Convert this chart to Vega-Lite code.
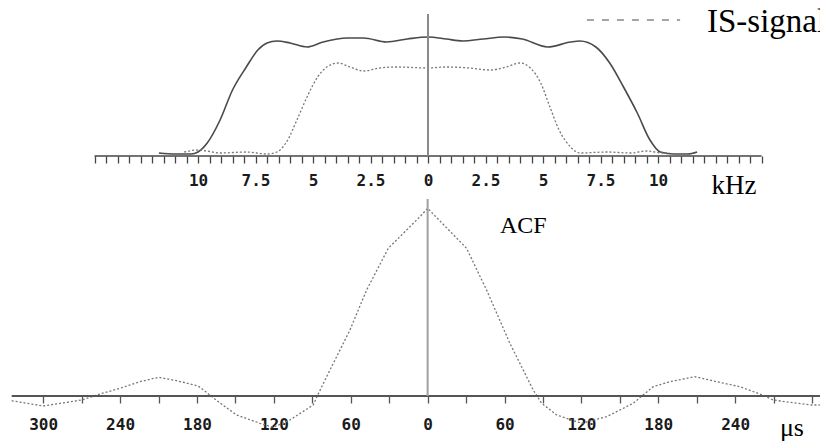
{
  "$schema": "https://vega.github.io/schema/vega-lite/v6.json",
  "width": 820,
  "height": 441,
  "autosize": {"type": "none"},
  "padding": 0,
  "background": "white",
  "config": {"view": {"stroke": null}},
  "datasets": {
    "spectrum": [
      {"k": -11.7, "v": 3, "series": "filter"},
      {"k": -11.0, "v": 2, "series": "filter"},
      {"k": -10.3, "v": 2, "series": "filter"},
      {"k": -10.0, "v": 4, "series": "filter"},
      {"k": -9.6, "v": 13, "series": "filter"},
      {"k": -9.04, "v": 36, "series": "filter"},
      {"k": -8.5, "v": 66, "series": "filter"},
      {"k": -7.9, "v": 89, "series": "filter"},
      {"k": -7.4, "v": 106, "series": "filter"},
      {"k": -7.0, "v": 113, "series": "filter"},
      {"k": -6.57, "v": 115, "series": "filter"},
      {"k": -6.0, "v": 113, "series": "filter"},
      {"k": -5.26, "v": 109, "series": "filter"},
      {"k": -4.56, "v": 114, "series": "filter"},
      {"k": -3.5, "v": 118, "series": "filter"},
      {"k": -2.8, "v": 118, "series": "filter"},
      {"k": -1.8, "v": 114, "series": "filter"},
      {"k": -0.9, "v": 117, "series": "filter"},
      {"k": 0, "v": 119, "series": "filter"},
      {"k": 0.8, "v": 117, "series": "filter"},
      {"k": 1.5, "v": 115, "series": "filter"},
      {"k": 2.4, "v": 117, "series": "filter"},
      {"k": 3.3, "v": 119, "series": "filter"},
      {"k": 4.1, "v": 117, "series": "filter"},
      {"k": 5.2, "v": 109, "series": "filter"},
      {"k": 6.2, "v": 114, "series": "filter"},
      {"k": 6.6, "v": 115, "series": "filter"},
      {"k": 7.3, "v": 109, "series": "filter"},
      {"k": 7.9, "v": 93, "series": "filter"},
      {"k": 8.5, "v": 69, "series": "filter"},
      {"k": 9.1, "v": 43, "series": "filter"},
      {"k": 9.65, "v": 16, "series": "filter"},
      {"k": 10.1, "v": 4, "series": "filter"},
      {"k": 10.7, "v": 2, "series": "filter"},
      {"k": 11.3, "v": 2, "series": "filter"},
      {"k": 11.7, "v": 4, "series": "filter"},
      {"k": -10.6, "v": 4, "series": "IS-signal"},
      {"k": -10.0, "v": 6, "series": "IS-signal"},
      {"k": -9.0, "v": 3, "series": "IS-signal"},
      {"k": -7.9, "v": 4, "series": "IS-signal"},
      {"k": -7.0, "v": 2, "series": "IS-signal"},
      {"k": -6.57, "v": 4, "series": "IS-signal"},
      {"k": -6.1, "v": 16, "series": "IS-signal"},
      {"k": -5.7, "v": 36, "series": "IS-signal"},
      {"k": -5.26, "v": 59, "series": "IS-signal"},
      {"k": -4.8, "v": 79, "series": "IS-signal"},
      {"k": -4.4, "v": 89, "series": "IS-signal"},
      {"k": -3.9, "v": 93, "series": "IS-signal"},
      {"k": -3.4, "v": 89, "series": "IS-signal"},
      {"k": -2.8, "v": 85, "series": "IS-signal"},
      {"k": -2.1, "v": 88, "series": "IS-signal"},
      {"k": -1.35, "v": 89, "series": "IS-signal"},
      {"k": 0, "v": 88, "series": "IS-signal"},
      {"k": 0.8, "v": 89, "series": "IS-signal"},
      {"k": 1.8, "v": 88, "series": "IS-signal"},
      {"k": 2.7, "v": 86, "series": "IS-signal"},
      {"k": 3.4, "v": 89, "series": "IS-signal"},
      {"k": 4.0, "v": 93, "series": "IS-signal"},
      {"k": 4.4, "v": 89, "series": "IS-signal"},
      {"k": 4.9, "v": 73, "series": "IS-signal"},
      {"k": 5.3, "v": 49, "series": "IS-signal"},
      {"k": 5.7, "v": 26, "series": "IS-signal"},
      {"k": 6.2, "v": 9, "series": "IS-signal"},
      {"k": 6.6, "v": 3, "series": "IS-signal"},
      {"k": 7.8, "v": 4, "series": "IS-signal"},
      {"k": 8.8, "v": 3, "series": "IS-signal"},
      {"k": 9.5, "v": 5, "series": "IS-signal"},
      {"k": 10.2, "v": 3, "series": "IS-signal"},
      {"k": 10.5, "v": 3, "series": "IS-signal"}
    ],
    "acf": [
      {"t": -324.6, "v": -4.7},
      {"t": -300, "v": -10},
      {"t": -270, "v": -4},
      {"t": -255.7, "v": 2},
      {"t": -240, "v": 7.7},
      {"t": -224.5, "v": 14.3},
      {"t": -210, "v": 18.7},
      {"t": -195.9, "v": 15.3},
      {"t": -179, "v": 10},
      {"t": -171, "v": 2},
      {"t": -162, "v": -7},
      {"t": -149, "v": -19},
      {"t": -130.9, "v": -27.3},
      {"t": -120.5, "v": -31.3},
      {"t": -107.5, "v": -24},
      {"t": -89.3, "v": -9},
      {"t": -85.4, "v": 2},
      {"t": -76.2, "v": 26},
      {"t": -60.6, "v": 66},
      {"t": -47.6, "v": 106},
      {"t": -30.7, "v": 147.7},
      {"t": -6, "v": 179.3},
      {"t": 0, "v": 187.7},
      {"t": 30.4, "v": 147.7},
      {"t": 46, "v": 106},
      {"t": 64.2, "v": 52.7},
      {"t": 82.4, "v": 6},
      {"t": 89, "v": -7.3},
      {"t": 100.7, "v": -19},
      {"t": 120.2, "v": -27.3},
      {"t": 139.7, "v": -20.7},
      {"t": 160.4, "v": -7.3},
      {"t": 176, "v": 9.3},
      {"t": 189, "v": 14.3},
      {"t": 208.6, "v": 19.3},
      {"t": 225.5, "v": 14.3},
      {"t": 243.7, "v": 9.3},
      {"t": 259.3, "v": 2},
      {"t": 269.7, "v": -4},
      {"t": 285.3, "v": -6.7},
      {"t": 299.6, "v": -9},
      {"t": 306, "v": -9}
    ],
    "topBaseline": [{"k": -14.5, "k2": 14.5, "v": 0}],
    "topZero": [{"k": 0, "v": 0, "v2": 142}],
    "legendRule": [{"k": 6.91, "k2": 10.96, "v": 136}],
    "topText": [
      {"k": 12.13, "v": 124.5, "label": "IS-signal", "size": 33},
      {"k": 12.33, "v": -38.3, "label": "kHz", "size": 27}
    ],
    "bottomBaseline": [{"t": -324.6, "t2": 306.2, "v": 0}],
    "bottomZero": [{"t": 0, "v": 0, "v2": 197}],
    "bottomText": [
      {"t": 56.4, "v": 163, "label": "ACF", "size": 24},
      {"t": 274.9, "v": -39.5, "label": "μs", "size": 26}
    ]
  },
  "layer": [
    {
      "data": {"name": "spectrum"},
      "transform": [{"filter": "datum.series === 'filter'"}],
      "mark": {"type": "line", "color": "#4a4a4a", "strokeWidth": 1.6, "interpolate": "monotone"},
      "encoding": {
        "x": {"field": "k", "type": "quantitative", "scale": {"domain": [-18.609, 17.043], "nice": false, "zero": false},
          "axis": {"orient": "bottom", "offset": -285, "domain": false, "grid": false, "title": null,
            "values": [-14.5,-14,-13.5,-13,-12.5,-12,-11.5,-11,-10.5,-10,-9.5,-9,-8.5,-8,-7.5,-7,-6.5,-6,-5.5,-5,-4.5,-4,-3.5,-3,-2.5,-2,-1.5,-1,-0.5,0,0.5,1,1.5,2,2.5,3,3.5,4,4.5,5,5.5,6,6.5,7,7.5,8,8.5,9,9.5,10,10.5,11,11.5,12,12.5,13,13.5,14,14.5],
            "labelExpr": "(abs(datum.value) % 2.5 == 0 && abs(datum.value) <= 10) ? ('' + abs(datum.value)) : ''",
            "tickSize": 7, "tickWidth": 1.3, "tickColor": "#444444",
            "labelFont": "DejaVu Sans Mono", "labelFontWeight": "bold", "labelFontSize": 16, "labelColor": "#1a1a1a",
            "labelPadding": 9.4, "labelOverlap": false, "labelFlush": false, "labelBound": false}},
        "y": {"field": "v", "type": "quantitative", "scale": {"domain": [-285, 156], "nice": false, "zero": false}, "axis": null},
        "order": {"field": "k", "type": "quantitative"}
      }
    },
    {
      "data": {"name": "spectrum"},
      "transform": [{"filter": "datum.series === 'IS-signal'"}],
      "mark": {"type": "line", "color": "#777777", "strokeWidth": 1.3, "strokeDash": [2, 2], "interpolate": "monotone"},
      "encoding": {
        "x": {"field": "k", "type": "quantitative", "scale": {"domain": [-18.609, 17.043], "nice": false, "zero": false}, "axis": null},
        "y": {"field": "v", "type": "quantitative", "scale": {"domain": [-285, 156], "nice": false, "zero": false}, "axis": null},
        "order": {"field": "k", "type": "quantitative"}
      }
    },
    {
      "data": {"name": "topBaseline"},
      "mark": {"type": "rule", "color": "#444444", "strokeWidth": 1.6},
      "encoding": {
        "x": {"field": "k", "type": "quantitative", "scale": {"domain": [-18.609, 17.043], "nice": false, "zero": false}, "axis": null},
        "x2": {"field": "k2"},
        "y": {"field": "v", "type": "quantitative", "scale": {"domain": [-285, 156], "nice": false, "zero": false}, "axis": null}
      }
    },
    {
      "data": {"name": "topZero"},
      "mark": {"type": "rule", "color": "#8a8a8a", "strokeWidth": 2},
      "encoding": {
        "x": {"field": "k", "type": "quantitative", "scale": {"domain": [-18.609, 17.043], "nice": false, "zero": false}, "axis": null},
        "y": {"field": "v", "type": "quantitative", "scale": {"domain": [-285, 156], "nice": false, "zero": false}, "axis": null},
        "y2": {"field": "v2"}
      }
    },
    {
      "data": {"name": "legendRule"},
      "mark": {"type": "rule", "color": "#888888", "strokeWidth": 1.3, "strokeDash": [7, 8]},
      "encoding": {
        "x": {"field": "k", "type": "quantitative", "scale": {"domain": [-18.609, 17.043], "nice": false, "zero": false}, "axis": null},
        "x2": {"field": "k2"},
        "y": {"field": "v", "type": "quantitative", "scale": {"domain": [-285, 156], "nice": false, "zero": false}, "axis": null}
      }
    },
    {
      "data": {"name": "topText"},
      "mark": {"type": "text", "font": "Liberation Serif", "align": "left", "baseline": "alphabetic", "color": "#000000"},
      "encoding": {
        "x": {"field": "k", "type": "quantitative", "scale": {"domain": [-18.609, 17.043], "nice": false, "zero": false}, "axis": null},
        "y": {"field": "v", "type": "quantitative", "scale": {"domain": [-285, 156], "nice": false, "zero": false}, "axis": null},
        "text": {"field": "label"},
        "size": {"field": "size", "type": "quantitative", "scale": null}
      }
    },
    {
      "data": {"name": "acf"},
      "mark": {"type": "line", "color": "#777777", "strokeWidth": 1.3, "strokeDash": [2, 2]},
      "encoding": {
        "x": {"field": "t", "type": "quantitative", "scale": {"domain": [-333.7, 306.2], "nice": false, "zero": false},
          "axis": {"orient": "bottom", "offset": -45, "domain": false, "grid": false, "title": null,
            "values": [-300,-270,-240,-210,-180,-150,-120,-90,-60,-30,0,30,60,90,120,150,180,210,240,270,300],
            "labelExpr": "(datum.value % 60 == 0 && datum.value < 300) ? ('' + abs(datum.value)) : ''",
            "tickSize": 7, "tickWidth": 1.3, "tickColor": "#555555",
            "labelFont": "DejaVu Sans Mono", "labelFontWeight": "bold", "labelFontSize": 16, "labelColor": "#1a1a1a",
            "labelPadding": 13.4, "labelOverlap": false, "labelFlush": false, "labelBound": false}},
        "y": {"field": "v", "type": "quantitative", "scale": {"domain": [-45, 396], "nice": false, "zero": false}, "axis": null},
        "order": {"field": "t", "type": "quantitative"}
      }
    },
    {
      "data": {"name": "bottomBaseline"},
      "mark": {"type": "rule", "color": "#555555", "strokeWidth": 1.8},
      "encoding": {
        "x": {"field": "t", "type": "quantitative", "scale": {"domain": [-333.7, 306.2], "nice": false, "zero": false}, "axis": null},
        "x2": {"field": "t2"},
        "y": {"field": "v", "type": "quantitative", "scale": {"domain": [-45, 396], "nice": false, "zero": false}, "axis": null}
      }
    },
    {
      "data": {"name": "bottomZero"},
      "mark": {"type": "rule", "color": "#a0a0a0", "strokeWidth": 2},
      "encoding": {
        "x": {"field": "t", "type": "quantitative", "scale": {"domain": [-333.7, 306.2], "nice": false, "zero": false}, "axis": null},
        "y": {"field": "v", "type": "quantitative", "scale": {"domain": [-45, 396], "nice": false, "zero": false}, "axis": null},
        "y2": {"field": "v2"}
      }
    },
    {
      "data": {"name": "bottomText"},
      "mark": {"type": "text", "font": "Liberation Serif", "align": "left", "baseline": "alphabetic", "color": "#000000"},
      "encoding": {
        "x": {"field": "t", "type": "quantitative", "scale": {"domain": [-333.7, 306.2], "nice": false, "zero": false}, "axis": null},
        "y": {"field": "v", "type": "quantitative", "scale": {"domain": [-45, 396], "nice": false, "zero": false}, "axis": null},
        "text": {"field": "label"},
        "size": {"field": "size", "type": "quantitative", "scale": null}
      }
    }
  ],
  "resolve": {"scale": {"x": "independent", "y": "independent", "size": "independent"}, "axis": {"x": "independent", "y": "independent"}}
}
